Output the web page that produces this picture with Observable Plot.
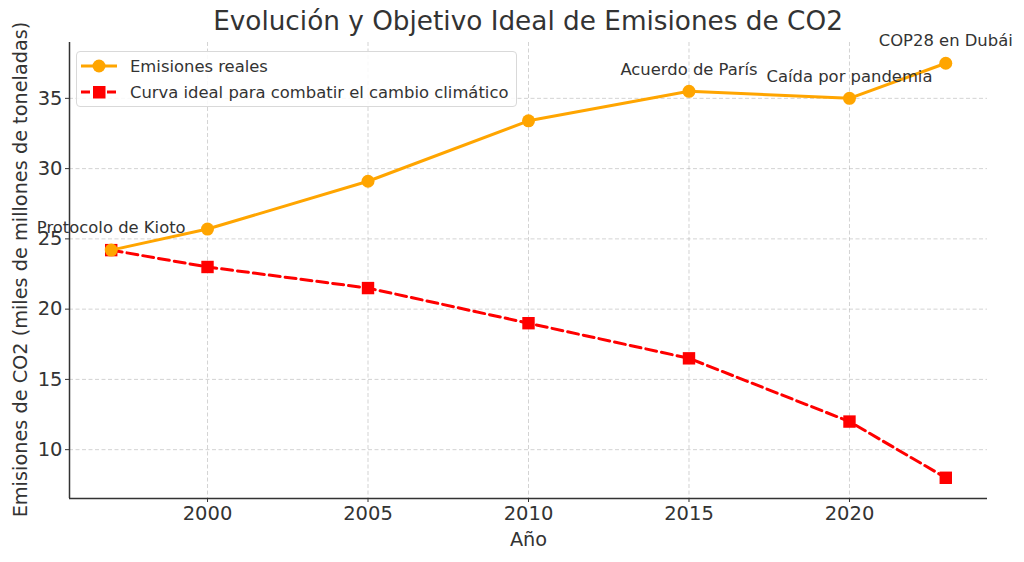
<!DOCTYPE html>
<html>
<head>
<meta charset="utf-8">
<script src="https://cdn.jsdelivr.net/npm/d3@7"></script>
<script src="https://cdn.jsdelivr.net/npm/@observablehq/plot@0.6"></script>
<style>
  body { margin: 0; background: #fff; font-family: "DejaVu Sans", sans-serif; }
  #wrap { position: relative; width: 1024px; height: 562px; overflow: hidden; }
  #title { position: absolute; left: 69px; width: 918px; top: 5px; text-align: center;
           font-size: 26.3px; line-height: 32px; color: #333; white-space: nowrap; }
  #legend { position: absolute; left: 76px; top: 51px; width: 439px; height: 54px;
            border: 1px solid #d9d9d9; border-radius: 4px; background: rgba(255,255,255,0.85); }
  .entry { position: absolute; left: 3px; height: 24px; display: flex; align-items: center;
           font-size: 16.4px; color: #333; white-space: nowrap; }
  .entry svg { margin-right: 12px; }
  #chart { position: absolute; left: 0; top: 0; }
</style>
</head>
<body>
<div id="wrap">
  <div id="chart"></div>
  <div id="title">Evolución y Objetivo Ideal de Emisiones de CO2</div>
  <div id="legend"></div>
</div>
<script>
const years = [1997, 2000, 2005, 2010, 2015, 2020, 2023];
const realEmissions = [24.2, 25.7, 29.1, 33.4, 35.5, 35.0, 37.5];
const idealCurve = [24.2, 23.0, 21.5, 19.0, 16.5, 12.0, 8.0];
const xTicks = [2000, 2005, 2010, 2015, 2020];
const yTicks = [10, 15, 20, 25, 30, 35];
const eventYears = [1997, 2015, 2020, 2023];
const eventLabels = ["Protocolo de Kioto", "Acuerdo de París", "Caída por pandemia", "COP28 en Dubái"];
const seriesNames = ["Emisiones reales", "Curva ideal para combatir el cambio climático"];

const orange = "#FFA500", red = "#FF0000", ink = "#333333";
const xDomain = [1995.7, 2024.3];
const yDomain = [6.525, 38.975];

const real = years.map((y, i) => ({year: y, value: realEmissions[i]}));
const ideal = years.map((y, i) => ({year: y, value: idealCurve[i]}));
const events = eventYears.map((y, i) => ({year: y, value: realEmissions[years.indexOf(y)], label: eventLabels[i]}));

const chart = Plot.plot({
  width: 1024,
  height: 562,
  marginLeft: 69,
  marginRight: 37,
  marginTop: 42,
  marginBottom: 64,
  style: {fontFamily: "DejaVu Sans, sans-serif", color: ink, background: "white"},
  x: {domain: xDomain, ticks: xTicks, tickFormat: d => String(d)},
  y: {domain: yDomain, ticks: yTicks},
  marks: [
    Plot.gridX(xTicks, {stroke: "#b0b0b0", strokeOpacity: 0.7, strokeDasharray: "4,2.5", strokeWidth: 0.8}),
    Plot.gridY(yTicks, {stroke: "#b0b0b0", strokeOpacity: 0.7, strokeDasharray: "4,2.5", strokeWidth: 0.8}),
    Plot.axisX(xTicks, {tickSize: 4, tickPadding: 4, fontSize: 19.5, stroke: ink, fill: ink, label: null, tickFormat: d => String(d)}),
    Plot.axisY(yTicks, {tickSize: 4, tickPadding: 3, fontSize: 19.5, stroke: ink, fill: ink, label: null}),
    Plot.text(["Año"], {frameAnchor: "bottom", dy: 41, lineAnchor: "middle", fontSize: 19.3, fill: ink}),
    Plot.text(["Emisiones de CO2 (miles de millones de toneladas)"], {frameAnchor: "left", dx: -49, dy: -1, rotate: -90, textAnchor: "middle", fontSize: 19.3, fill: ink}),
    Plot.ruleX([xDomain[0]], {stroke: ink, strokeWidth: 1.5}),
    Plot.ruleY([yDomain[0]], {stroke: ink, strokeWidth: 1.5}),
    Plot.line(ideal, {x: "year", y: "value", stroke: red, strokeWidth: 3, strokeDasharray: "11,5"}),
    Plot.dot(ideal, {x: "year", y: "value", symbol: "square", r: 7, fill: red, stroke: null}),
    Plot.line(real, {x: "year", y: "value", stroke: orange, strokeWidth: 3}),
    Plot.dot(real, {x: "year", y: "value", symbol: "circle", r: 6.5, fill: orange, stroke: null}),
    Plot.text(events, {x: "year", y: "value", text: "label", dy: -22, fontSize: 16.4, fill: ink})
  ]
});
document.getElementById("chart").appendChild(chart);

// Legend
const legend = d3.select("#legend");
const styles = [
  {color: orange, dash: null, symbol: "circle"},
  {color: red, dash: "11,5", symbol: "square"}
];
seriesNames.forEach((name, i) => {
  const e = legend.append("div").attr("class", "entry").style("top", (i === 0 ? 2 : 28) + "px");
  const s = e.append("svg").attr("width", 38).attr("height", 20);
  const st = styles[i];
  s.append("line").attr("x1", 1).attr("x2", 37).attr("y1", 10).attr("y2", 10)
    .attr("stroke", st.color).attr("stroke-width", 3)
    .attr("stroke-dasharray", st.dash ? "9,4" : null);
  if (st.symbol === "circle") s.append("circle").attr("cx", 19).attr("cy", 10).attr("r", 6.5).attr("fill", st.color);
  else s.append("rect").attr("x", 13).attr("y", 4).attr("width", 12.5).attr("height", 12.5).attr("fill", st.color);
  e.append("span").text(name);
});
</script>
</body>
</html>
